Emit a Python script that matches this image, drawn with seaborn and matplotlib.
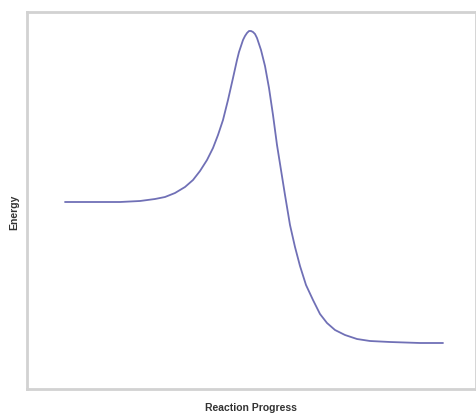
import pandas as pd
import numpy as np
import seaborn as sns
import matplotlib.pyplot as plt

# curve (pixel positions inside the frame)
progress = [38, 63, 93, 113, 128, 138, 148, 158, 166, 173, 180, 186, 191, 196,
            201, 206, 210, 212, 214, 216, 218, 220, 222, 224, 226, 228, 230,
            234, 238, 242, 246, 250, 254, 258, 263, 268, 273, 279, 286, 293, 300,
            308, 318, 330, 343, 363, 393, 416]
energy = [187, 187, 187, 188, 190, 192, 196, 202, 209, 218, 229, 241, 254, 269,
          289, 311, 329, 337, 343, 349, 353, 356, 358, 358, 357, 355, 351,
          339, 323, 301, 274, 244, 219, 194, 164, 142, 123, 104, 89, 75, 66,
          59, 54, 50, 48, 47, 46, 46]

df = pd.DataFrame({'progress': progress, 'energy': energy})

sns.set_style("white")
plt.rcParams['font.family'] = ['Liberation Sans', 'DejaVu Sans']

fig = plt.figure(figsize=(4.77, 4.18), dpi=100)
ax = fig.add_axes([27 / 477, 29 / 418, 449 / 477, 377 / 418])
sns.lineplot(data=df, x='progress', y='energy', sort=False, color='#7070b6',
             linewidth=1.3, ax=ax)
ax.set_xlim(0, 449)
ax.set_ylim(0, 377)
ax.set_xticks([])
ax.set_yticks([])
ax.set_xlabel('')
ax.set_ylabel('')
for s in ax.spines.values():
    s.set_color('#d2d2d2')
    s.set_linewidth(2)

fig.text(251 / 477, 1 - 408 / 418, 'Reaction Progress', ha='center', va='center',
         fontsize=7.5, fontweight='bold', color='#333333')
fig.text(14 / 477, 1 - 212 / 418, 'Energy', ha='center', va='center', rotation=90,
         fontsize=7.5, fontweight='bold', color='#333333')

fig.savefig('out.png', dpi=100)
